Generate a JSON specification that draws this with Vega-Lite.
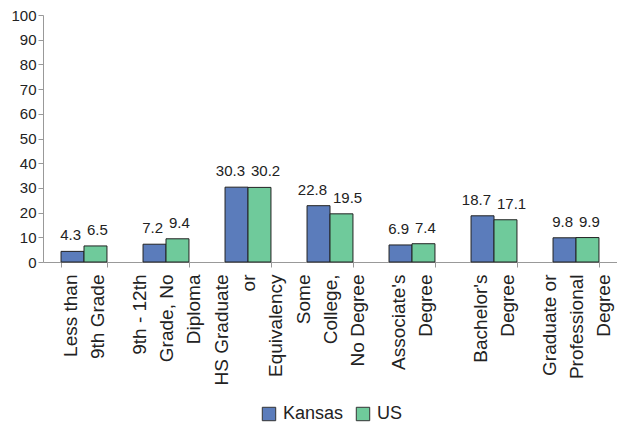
{
  "$schema": "https://vega.github.io/schema/vega-lite/v6.json",
  "width": 574,
  "height": 247,
  "autosize": {"type": "none"},
  "padding": {"left": 43, "top": 15, "right": 0, "bottom": 164},
  "background": "white",
  "config": {"view": {"stroke": null}, "font": "Liberation Sans"},
  "data": {
    "values": [
      {"education": "Less than|9th Grade", "region": "Kansas", "pct": 4.3},
      {"education": "Less than|9th Grade", "region": "US", "pct": 6.5},
      {"education": "9th - 12th|Grade, No|Diploma", "region": "Kansas", "pct": 7.2},
      {"education": "9th - 12th|Grade, No|Diploma", "region": "US", "pct": 9.4},
      {"education": "HS Graduate|or|Equivalency", "region": "Kansas", "pct": 30.3},
      {"education": "HS Graduate|or|Equivalency", "region": "US", "pct": 30.2},
      {"education": "Some|College,|No Degree", "region": "Kansas", "pct": 22.8},
      {"education": "Some|College,|No Degree", "region": "US", "pct": 19.5},
      {"education": "Associate's|Degree", "region": "Kansas", "pct": 6.9},
      {"education": "Associate's|Degree", "region": "US", "pct": 7.4},
      {"education": "Bachelor's|Degree", "region": "Kansas", "pct": 18.7},
      {"education": "Bachelor's|Degree", "region": "US", "pct": 17.1},
      {"education": "Graduate or|Professional|Degree", "region": "Kansas", "pct": 9.8},
      {"education": "Graduate or|Professional|Degree", "region": "US", "pct": 9.9}
    ]
  },
  "encoding": {
    "x": {
      "field": "education",
      "type": "nominal",
      "sort": null,
      "title": null,
      "scale": {"paddingInner": 0.44, "paddingOuter": 0.22},
      "axis": {
        "labelExpr": "split(datum.label, '|')",
        "labelAngle": -90,
        "labelAlign": "right",
        "labelBaseline": "middle",
        "labelFontSize": 19,
        "labelLineHeight": 27,
        "labelColor": "#222",
        "labelPadding": 7,
        "labelLimit": 0,
        "labelOffset": {"condition": {"test": "length(split(datum.value, '|')) == 3", "value": -27}, "value": -13.5},
        "tickBand": "extent",
        "tickSize": 5,
        "tickColor": "#999",
        "domainColor": "#999"
      }
    },
    "y": {
      "field": "pct",
      "type": "quantitative",
      "title": null,
      "scale": {"domain": [0, 100]},
      "axis": {
        "values": [0, 10, 20, 30, 40, 50, 60, 70, 80, 90, 100],
        "grid": false,
        "labelFontSize": 15,
        "labelColor": "#222",
        "labelPadding": 2,
        "tickSize": 5,
        "tickColor": "#999",
        "domainColor": "#999"
      }
    }
  },
  "layer": [
    {
      "mark": {"type": "bar", "stroke": "#222", "strokeWidth": 1},
      "encoding": {
        "xOffset": {"field": "region", "sort": ["Kansas", "US"]},
        "color": {
          "field": "region",
          "type": "nominal",
          "scale": {"domain": ["Kansas", "US"], "range": ["#5b7cbb", "#6fca9b"]},
          "legend": {
            "title": null,
            "orient": "none",
            "direction": "horizontal",
            "legendX": 217,
            "legendY": 390,
            "symbolType": "square",
            "symbolSize": 180,
            "symbolStrokeColor": "#333",
            "symbolStrokeWidth": 1,
            "labelFontSize": 18,
            "labelColor": "#222",
            "labelOffset": 5,
            "columnPadding": 10
          }
        }
      }
    },
    {
      "transform": [{"filter": "datum.region === 'Kansas'"}],
      "mark": {"type": "text", "align": "right", "baseline": "bottom", "dx": -3, "dy": -8, "fontSize": 15, "color": "#222"},
      "encoding": {"text": {"field": "pct", "type": "quantitative", "format": ".1f"}}
    },
    {
      "transform": [{"filter": "datum.region === 'US'"}],
      "mark": {"type": "text", "align": "left", "baseline": "bottom", "dx": 3, "dy": -8, "fontSize": 15, "color": "#222"},
      "encoding": {"text": {"field": "pct", "type": "quantitative", "format": ".1f"}}
    }
  ]
}
